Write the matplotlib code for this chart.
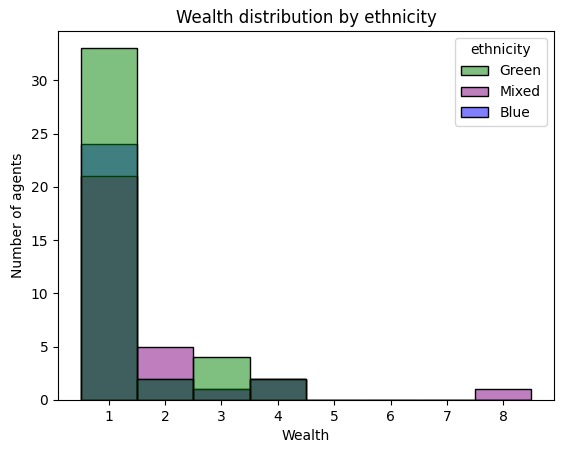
import matplotlib
matplotlib.use("Agg")
import matplotlib.pyplot as plt
import seaborn as sns
import pandas as pd

# counts of agents per wealth level
wealth_levels = [1, 2, 3, 4, 5, 6, 7, 8]
green_counts = [33, 2, 4, 2, 0, 0, 0, 0]
mixed_counts = [21, 5, 1, 2, 0, 0, 0, 1]
blue_counts = [24, 2, 1, 2, 0, 0, 0, 0]

ethnicities = ["Green", "Mixed", "Blue"]
palette = {"Green": "green", "Mixed": "purple", "Blue": "blue"}

rows = []
for eth, counts in zip(ethnicities, [green_counts, mixed_counts, blue_counts]):
    for w, c in zip(wealth_levels, counts):
        rows += [{"wealth": w, "ethnicity": eth}] * c
df = pd.DataFrame(rows)

fig = plt.figure(figsize=(5.63, 4.54), dpi=100)
ax = fig.add_axes([0.103, 0.119, 0.881, 0.813])
sns.histplot(data=df, x="wealth", hue="ethnicity", hue_order=ethnicities,
             palette=palette, discrete=True, ax=ax)
ax.set_title("Wealth distribution by ethnicity")
ax.set_xlabel("Wealth")
ax.set_ylabel("Number of agents")
fig.savefig("out.png", dpi=100)
